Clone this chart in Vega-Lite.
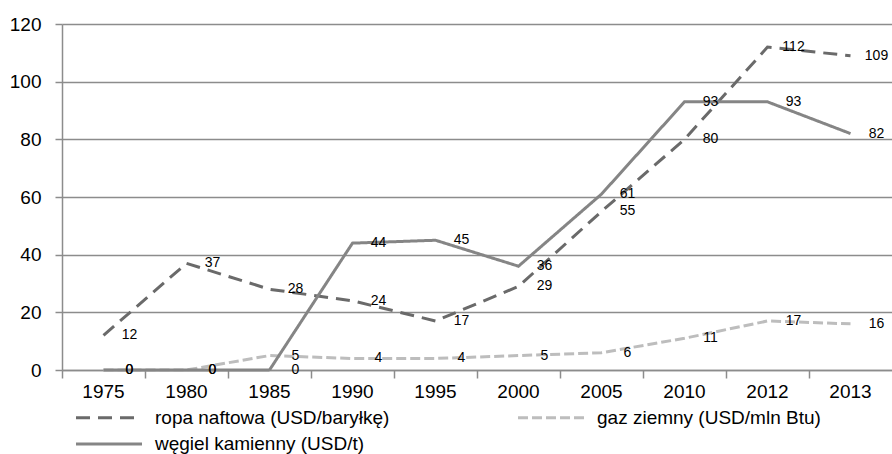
{
  "$schema": "https://vega.github.io/schema/vega-lite/v6.json",
  "width": 830,
  "height": 346,
  "autosize": "none",
  "padding": {"left": 62, "top": 24, "right": 0, "bottom": 84},
  "config": {
    "view": {"stroke": null},
    "font": "Liberation Sans",
    "legend": {
      "orient": "none",
      "legendX": 34.5,
      "legendY": 381,
      "direction": "horizontal",
      "columns": 2,
      "symbolType": "M-3,0H3",
      "symbolSize": 484,
      "symbolStrokeWidth": 3,
      "labelFontSize": 19,
      "labelOffset": 33.5,
      "labelColor": "#000000",
      "columnPadding": 122,
      "rowPadding": 3.5,
      "labelLimit": 400,
      "title": null
    }
  },
  "data": {
    "values": [
      {"year": "1975", "series": "ropa naftowa (USD/baryłkę)", "value": 12},
      {"year": "1980", "series": "ropa naftowa (USD/baryłkę)", "value": 37},
      {"year": "1985", "series": "ropa naftowa (USD/baryłkę)", "value": 28},
      {"year": "1990", "series": "ropa naftowa (USD/baryłkę)", "value": 24},
      {"year": "1995", "series": "ropa naftowa (USD/baryłkę)", "value": 17},
      {"year": "2000", "series": "ropa naftowa (USD/baryłkę)", "value": 29},
      {"year": "2005", "series": "ropa naftowa (USD/baryłkę)", "value": 55},
      {"year": "2010", "series": "ropa naftowa (USD/baryłkę)", "value": 80},
      {"year": "2012", "series": "ropa naftowa (USD/baryłkę)", "value": 112},
      {"year": "2013", "series": "ropa naftowa (USD/baryłkę)", "value": 109},
      {"year": "1975", "series": "gaz ziemny (USD/mln Btu)", "value": 0},
      {"year": "1980", "series": "gaz ziemny (USD/mln Btu)", "value": 0},
      {"year": "1985", "series": "gaz ziemny (USD/mln Btu)", "value": 5},
      {"year": "1990", "series": "gaz ziemny (USD/mln Btu)", "value": 4},
      {"year": "1995", "series": "gaz ziemny (USD/mln Btu)", "value": 4},
      {"year": "2000", "series": "gaz ziemny (USD/mln Btu)", "value": 5},
      {"year": "2005", "series": "gaz ziemny (USD/mln Btu)", "value": 6},
      {"year": "2010", "series": "gaz ziemny (USD/mln Btu)", "value": 11},
      {"year": "2012", "series": "gaz ziemny (USD/mln Btu)", "value": 17},
      {"year": "2013", "series": "gaz ziemny (USD/mln Btu)", "value": 16},
      {"year": "1975", "series": "węgiel kamienny (USD/t)", "value": 0},
      {"year": "1980", "series": "węgiel kamienny (USD/t)", "value": 0},
      {"year": "1985", "series": "węgiel kamienny (USD/t)", "value": 0},
      {"year": "1990", "series": "węgiel kamienny (USD/t)", "value": 44},
      {"year": "1995", "series": "węgiel kamienny (USD/t)", "value": 45},
      {"year": "2000", "series": "węgiel kamienny (USD/t)", "value": 36},
      {"year": "2005", "series": "węgiel kamienny (USD/t)", "value": 61},
      {"year": "2010", "series": "węgiel kamienny (USD/t)", "value": 93},
      {"year": "2012", "series": "węgiel kamienny (USD/t)", "value": 93},
      {"year": "2013", "series": "węgiel kamienny (USD/t)", "value": 82}
    ]
  },
  "layer": [
    {
      "mark": {"type": "line", "strokeWidth": 3},
      "encoding": {
        "x": {
          "field": "year",
          "type": "ordinal",
          "scale": {"type": "band", "paddingInner": 0, "paddingOuter": 0},
          "axis": {
            "orient": "bottom",
            "title": null,
            "labels": false,
            "grid": false,
            "ticks": true,
            "bandPosition": 0,
            "tickSize": 8,
            "tickColor": "#8c8c8c",
            "tickWidth": 1.5,
            "domain": true,
            "domainColor": "#8c8c8c",
            "domainWidth": 1.5
          }
        },
        "y": {
          "field": "value",
          "type": "quantitative",
          "scale": {"domain": [0, 120], "nice": false},
          "axis": {
            "title": null,
            "values": [0, 20, 40, 60, 80, 100, 120],
            "grid": true,
            "gridColor": "#8c8c8c",
            "gridWidth": 1.5,
            "domain": true,
            "domainColor": "#8c8c8c",
            "domainWidth": 1.5,
            "tickColor": "#8c8c8c",
            "tickWidth": 1.5,
            "tickSize": 7,
            "labelFontSize": 19,
            "labelColor": "#000000",
            "labelPadding": 14
          }
        },
        "color": {
          "field": "series",
          "type": "nominal",
          "scale": {
            "domain": ["ropa naftowa (USD/baryłkę)", "gaz ziemny (USD/mln Btu)", "węgiel kamienny (USD/t)"],
            "range": ["#6a6a6a", "#bdbdbd", "#858585"]
          },
          "legend": {"title": null}
        },
        "strokeDash": {
          "field": "series",
          "type": "nominal",
          "scale": {
            "domain": ["ropa naftowa (USD/baryłkę)", "gaz ziemny (USD/mln Btu)", "węgiel kamienny (USD/t)"],
            "range": [[14, 8], [10, 4], [1, 0]]
          },
          "legend": {"title": null}
        }
      }
    },
    {
      "mark": {"type": "text", "dx": 26, "fontSize": 14, "color": "#000000"},
      "encoding": {
        "x": {
          "field": "year",
          "type": "ordinal",
          "scale": {"type": "band", "paddingInner": 0, "paddingOuter": 0},
          "axis": {
            "orient": "bottom",
            "title": null,
            "labels": true,
            "ticks": false,
            "domain": false,
            "grid": false,
            "labelAngle": 0,
            "labelFontSize": 19,
            "labelColor": "#000000",
            "labelPadding": 12
          }
        },
        "y": {
          "field": "value",
          "type": "quantitative",
          "scale": {"domain": [0, 120], "nice": false}
        },
        "text": {"field": "value", "type": "quantitative"}
      }
    }
  ],
  "resolve": {"axis": {"x": "independent"}}
}
